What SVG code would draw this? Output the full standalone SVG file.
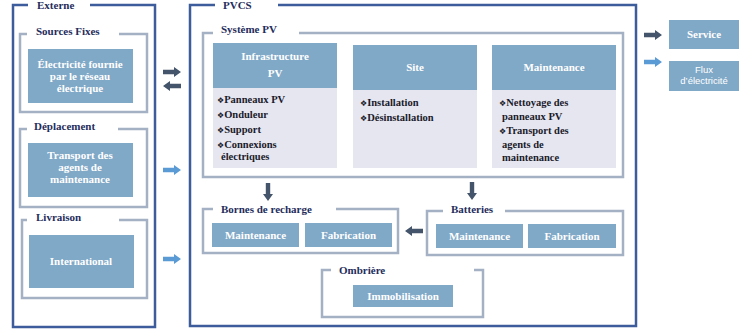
<svg xmlns="http://www.w3.org/2000/svg" width="751" height="333" viewBox="0 0 751 333">
<style>
.outer{fill:none;stroke:#3d5c9c;stroke-width:2.5}
.grp{fill:none;stroke:#a4b1c4;stroke-width:2.5}
.gap{fill:#fff;stroke:none}
.fill{fill:#80a8c7}
.body{fill:#e6e6f0}
.ttl{font-family:"Liberation Serif",serif;font-weight:bold;font-size:11px;fill:#1f2d5c}
.wt{font-family:"Liberation Serif",serif;font-weight:bold;font-size:11px;fill:#fff;text-anchor:middle}
.bt{font-family:"Liberation Serif",serif;font-weight:bold;font-size:10.5px;fill:#1a1a2a}
.bu{font-family:"DejaVu Sans",sans-serif;font-weight:normal;font-size:8px}
.sm{font-family:"Liberation Sans",sans-serif;font-size:9.5px;fill:#fff;text-anchor:middle}
.dk{fill:#44546a}
.bl{fill:#5b9bd5}
</style>
<defs>
<path id="ar" d="M0,-2.2 H11 V-5 L18,0 L11,5 V2.2 H0 Z"/>
</defs>

<g id="externe">
<rect class="outer" x="13" y="5" width="142" height="322"/>
<rect class="gap" x="28" y="0" width="62" height="10"/>
<text class="ttl" x="37" y="9">Externe</text>
</g>

<g id="sources-fixes">
<rect class="grp" x="20" y="34" width="127" height="78"/>
<rect class="gap" x="27" y="28" width="92" height="10"/>
<text class="ttl" x="36" y="35">Sources Fixes</text>
<rect class="fill" x="28" y="49" width="105" height="54"/>
<text class="wt" x="80" y="68">Électricité fournie</text>
<text class="wt" x="80" y="80">par le réseau</text>
<text class="wt" x="80" y="92">électrique</text>
</g>

<g id="deplacement">
<rect class="grp" x="20" y="129" width="127" height="78"/>
<rect class="gap" x="27" y="123" width="91" height="10"/>
<text class="ttl" x="34" y="130">Déplacement</text>
<rect class="fill" x="28" y="143" width="105" height="54"/>
<text class="wt" x="80" y="159">Transport des</text>
<text class="wt" x="80" y="171">agents de</text>
<text class="wt" x="80" y="183">maintenance</text>
</g>

<g id="livraison">
<rect class="grp" x="22" y="220" width="125" height="78"/>
<rect class="gap" x="27" y="214" width="92" height="10"/>
<text class="ttl" x="36" y="221">Livraison</text>
<rect class="fill" x="29" y="235" width="105" height="53"/>
<text class="wt" x="81" y="265">International</text>
</g>

<g id="pvcs">
<rect class="outer" x="190" y="5" width="446" height="321"/>
<rect class="gap" x="215" y="0" width="63" height="10"/>
<text class="ttl" x="223" y="9">PVCS</text>
</g>

<g id="systeme-pv">
<rect class="grp" x="203" y="33" width="420" height="144"/>
<rect class="gap" x="213" y="27" width="86" height="10"/>
<text class="ttl" x="221" y="33">Système PV</text>
</g>

<g id="infrastructure-pv">
<rect class="body" x="213" y="88" width="124" height="80"/>
<rect class="fill" x="213" y="43" width="124" height="45"/>
<text class="wt" x="275" y="60">Infrastructure</text>
<text class="wt" x="275" y="77">PV</text>
<text class="bt" x="217" y="103"><tspan class="bu">❖</tspan>Panneaux PV</text>
<text class="bt" x="217" y="118"><tspan class="bu">❖</tspan>Onduleur</text>
<text class="bt" x="217" y="133"><tspan class="bu">❖</tspan>Support</text>
<text class="bt" x="217" y="148"><tspan class="bu">❖</tspan>Connexions</text>
<text class="bt" x="221" y="160">électriques</text>
</g>

<g id="site">
<rect class="body" x="353" y="90" width="124" height="78"/>
<rect class="fill" x="353" y="45" width="124" height="45"/>
<text class="wt" x="415" y="71">Site</text>
<text class="bt" x="360" y="106"><tspan class="bu">❖</tspan>Installation</text>
<text class="bt" x="360" y="121"><tspan class="bu">❖</tspan>Désinstallation</text>
</g>

<g id="maintenance">
<rect class="body" x="492" y="90" width="124" height="78"/>
<rect class="fill" x="492" y="45" width="124" height="45"/>
<text class="wt" x="554" y="71">Maintenance</text>
<text class="bt" x="499" y="106"><tspan class="bu">❖</tspan>Nettoyage des</text>
<text class="bt" x="502" y="120">panneaux PV</text>
<text class="bt" x="499" y="134"><tspan class="bu">❖</tspan>Transport des</text>
<text class="bt" x="502" y="148">agents de</text>
<text class="bt" x="502" y="161">maintenance</text>
</g>

<g id="bornes-de-recharge">
<rect class="grp" x="203" y="209" width="195" height="44"/>
<rect class="gap" x="213" y="203" width="123" height="10"/>
<text class="ttl" x="221" y="213">Bornes de recharge</text>
<rect class="fill" x="212" y="223" width="87" height="24"/>
<text class="wt" x="255.5" y="239">Maintenance</text>
<rect class="fill" x="305" y="223" width="87" height="24"/>
<text class="wt" x="348.5" y="239">Fabrication</text>
</g>

<g id="batteries">
<rect class="grp" x="427" y="211" width="196" height="44"/>
<rect class="gap" x="443" y="205" width="62" height="10"/>
<text class="ttl" x="451" y="213">Batteries</text>
<rect class="fill" x="436" y="224" width="87" height="24"/>
<text class="wt" x="479.5" y="240">Maintenance</text>
<rect class="fill" x="528" y="224" width="88" height="24"/>
<text class="wt" x="572" y="240">Fabrication</text>
</g>

<g id="ombriere">
<rect class="grp" x="322" y="270" width="161" height="47"/>
<rect class="gap" x="331" y="264" width="143" height="10"/>
<text class="ttl" x="339" y="274">Ombrière</text>
<rect class="fill" x="353" y="285" width="100" height="22"/>
<text class="wt" x="403" y="300">Immobilisation</text>
</g>

<g id="service">
<rect class="fill" x="669" y="20" width="70" height="29"/>
<text class="wt" x="704" y="38">Service</text>
</g>

<g id="flux-electricite">
<rect class="fill" x="669" y="61" width="70" height="30"/>
<text class="sm" x="704" y="73">Flux</text>
<text class="sm" x="704" y="84">d’électricité</text>
</g>

<g id="connectors">
<use href="#ar" class="dk" transform="translate(163,72)"/>
<use href="#ar" class="dk" transform="translate(181,86) rotate(180)"/>
<use href="#ar" class="bl" transform="translate(163,170)"/>
<use href="#ar" class="bl" transform="translate(163,259)"/>
<use href="#ar" class="dk" transform="translate(644,35)"/>
<use href="#ar" class="bl" transform="translate(644,62)"/>
<use href="#ar" class="dk" transform="translate(268,183) rotate(90)"/>
<use href="#ar" class="dk" transform="translate(472,182) rotate(90)"/>
<use href="#ar" class="dk" transform="translate(423,231) rotate(180)"/>
</g>
</svg>
